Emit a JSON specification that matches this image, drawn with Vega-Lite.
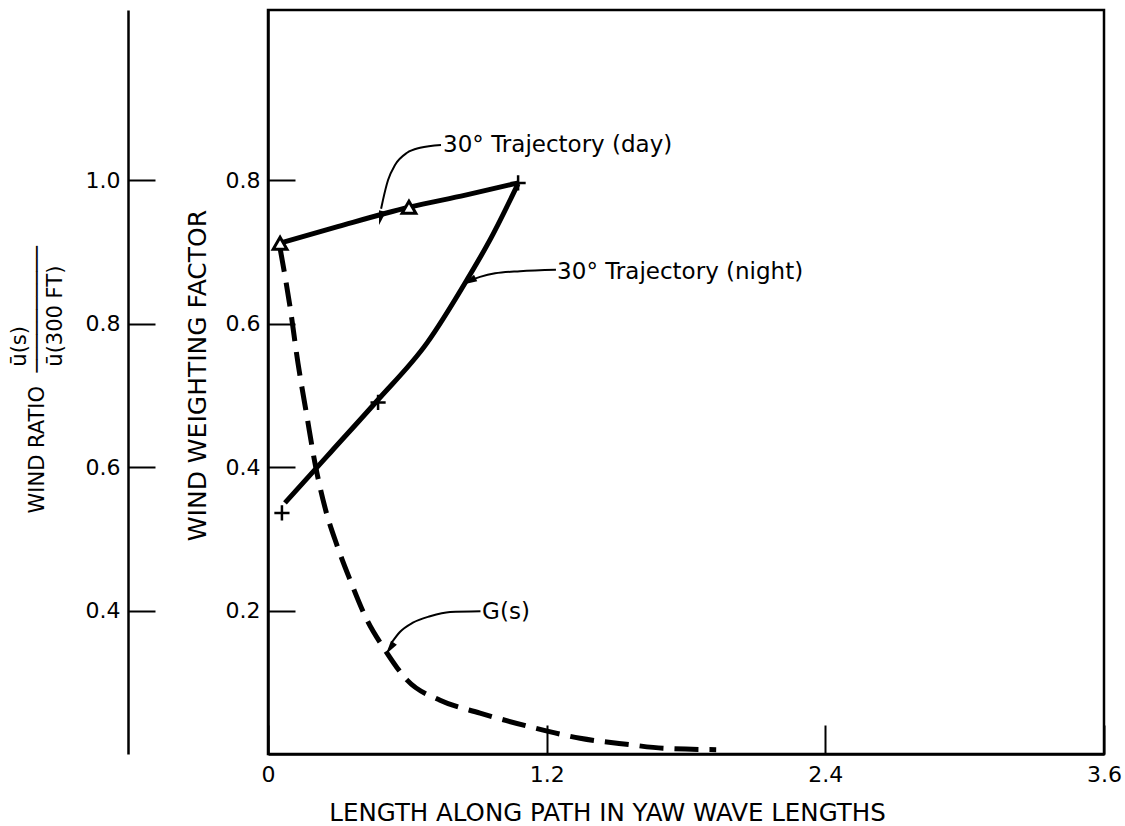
{
  "$schema": "https://vega.github.io/schema/vega-lite/v6.json",
  "width": 836,
  "height": 744,
  "autosize": {"type": "none"},
  "padding": {"left": 268, "top": 10, "right": 21, "bottom": 72},
  "background": "white",
  "config": {
    "view": {"stroke": "black", "strokeWidth": 2.5},
    "font": "DejaVu Sans",
    "axis": {
      "domainColor": "black", "domainWidth": 2.5, "tickColor": "black", "tickWidth": 2,
      "labelColor": "black", "titleColor": "black", "labelFont": "DejaVu Sans", "titleFont": "DejaVu Sans",
      "labelFontSize": 22, "titleFontSize": 23, "titleFontWeight": "normal", "grid": false, "labelFlush": false
    }
  },
  "datasets": {
    "ratioAxis": [{"ratio": 0.4}, {"ratio": 1.0}],
    "curves": [
      {"series": "day", "x": 0.052, "y": 0.712},
      {"series": "day", "x": 0.3, "y": 0.735},
      {"series": "day", "x": 0.607, "y": 0.762},
      {"series": "day", "x": 0.85, "y": 0.779},
      {"series": "day", "x": 1.077, "y": 0.796},
      {"series": "night", "x": 0.073, "y": 0.350},
      {"series": "night", "x": 0.271, "y": 0.421},
      {"series": "night", "x": 0.469, "y": 0.492},
      {"series": "night", "x": 0.685, "y": 0.573},
      {"series": "night", "x": 0.857, "y": 0.661},
      {"series": "night", "x": 0.960, "y": 0.719},
      {"series": "night", "x": 1.077, "y": 0.795}
    ],
    "gs": [
      {"x": 0.052, "y": 0.705},
      {"x": 0.095, "y": 0.623},
      {"x": 0.129, "y": 0.545},
      {"x": 0.168, "y": 0.470},
      {"x": 0.202, "y": 0.406},
      {"x": 0.245, "y": 0.344},
      {"x": 0.297, "y": 0.291},
      {"x": 0.353, "y": 0.243},
      {"x": 0.426, "y": 0.187},
      {"x": 0.504, "y": 0.145},
      {"x": 0.599, "y": 0.103},
      {"x": 0.741, "y": 0.075},
      {"x": 0.913, "y": 0.057},
      {"x": 1.128, "y": 0.038},
      {"x": 1.344, "y": 0.022},
      {"x": 1.559, "y": 0.013},
      {"x": 1.701, "y": 0.008},
      {"x": 1.930, "y": 0.006}
    ],
    "markers": [
      {"kind": "triangle", "x": 0.052, "y": 0.712},
      {"kind": "triangle", "x": 0.607, "y": 0.762},
      {"kind": "plus", "x": 0.060, "y": 0.336},
      {"kind": "plus", "x": 0.474, "y": 0.490},
      {"kind": "plus", "x": 1.077, "y": 0.796}
    ],
    "arrows": [
      {"arrow": "day", "x": 0.745, "y": 0.849},
      {"arrow": "day", "x": 0.655, "y": 0.845},
      {"arrow": "day", "x": 0.599, "y": 0.838},
      {"arrow": "day", "x": 0.547, "y": 0.821},
      {"arrow": "day", "x": 0.517, "y": 0.800},
      {"arrow": "day", "x": 0.495, "y": 0.772},
      {"arrow": "day", "x": 0.487, "y": 0.760},
      {"arrow": "night", "x": 1.240, "y": 0.675},
      {"arrow": "night", "x": 1.085, "y": 0.673},
      {"arrow": "night", "x": 0.978, "y": 0.670},
      {"arrow": "night", "x": 0.913, "y": 0.665},
      {"arrow": "night", "x": 0.876, "y": 0.661},
      {"arrow": "G", "x": 0.915, "y": 0.199},
      {"arrow": "G", "x": 0.784, "y": 0.198},
      {"arrow": "G", "x": 0.698, "y": 0.192},
      {"arrow": "G", "x": 0.624, "y": 0.183},
      {"arrow": "G", "x": 0.568, "y": 0.170},
      {"arrow": "G", "x": 0.532, "y": 0.155}
    ],
    "heads": [
      {"arrow": "day", "x": 0.4855, "y": 0.747},
      {"arrow": "night", "x": 0.867, "y": 0.659},
      {"arrow": "G", "x": 0.525, "y": 0.147}
    ],
    "labels": [
      {"x": 0.754, "y": 0.849, "text": "30° Trajectory (day)"},
      {"x": 1.245, "y": 0.672, "text": "30° Trajectory (night)"},
      {"x": 0.922, "y": 0.198, "text": "G(s)"}
    ]
  },
  "layer": [
    {
      "data": {"name": "ratioAxis"},
      "mark": {"type": "point", "opacity": 0},
      "encoding": {
        "y": {
          "field": "ratio", "type": "quantitative",
          "scale": {"domain": [0.2, 1.237], "nice": false, "zero": false},
          "axis": {
            "orient": "left", "offset": 140, "values": [0.4, 0.6, 0.8, 1.0], "format": ".1f",
            "tickSize": -27, "labelPadding": 35,
            "title": [
              "\u200b\u00a0\u00a0\u00a0\u00a0\u00a0\u00a0\u00a0\u00a0\u00a0\u00a0\u00a0\u00a0\u00a0\u00a0\u00a0\u00a0\u00a0\u00a0\u00a0\u00a0\u00a0\u00a0ū(s)",
              "WIND RATIO\u00a0\u00a0──────────",
              "\u200b\u00a0\u00a0\u00a0\u00a0\u00a0\u00a0\u00a0\u00a0\u00a0\u00a0\u00a0\u00a0\u00a0\u00a0\u00a0\u00a0\u00a0\u00a0\u00a0\u00a0\u00a0\u00a0ū(300 FT)"
            ],
            "titleX": -109, "titleY": 503, "titleAlign": "left", "titleBaseline": "middle",
            "titleAngle": -90, "titleLineHeight": 18, "titleFontSize": 21
          }
        }
      }
    },
    {
      "layer": [
        {
          "data": {"name": "curves"},
          "mark": {"type": "line", "color": "black", "strokeWidth": 5, "interpolate": "monotone"},
          "encoding": {
            "x": {
              "field": "x", "type": "quantitative",
              "scale": {"domain": [0, 3.6], "nice": false, "zero": false},
              "axis": {
                "values": [0, 1.2, 2.4, 3.6],
                "labelExpr": "datum.value == 0 ? '0' : format(datum.value, '.1f')",
                "tickSize": -29, "labelPadding": 39,
                "title": "LENGTH ALONG PATH IN YAW WAVE LENGTHS",
                "titleX": 339, "titleY": 59, "titleBaseline": "middle", "titleAlign": "center", "titleFontSize": 24.5
              }
            },
            "y": {
              "field": "y", "type": "quantitative",
              "scale": {"domain": [0, 1.037], "nice": false, "zero": false},
              "axis": {
                "orient": "left",
                "values": [0.2, 0.4, 0.6, 0.8], "format": ".1f",
                "tickSize": -27, "labelPadding": 35,
                "title": "WIND WEIGHTING FACTOR",
                "titleX": -71, "titleY": 365, "titleBaseline": "middle", "titleAlign": "center",
                "titleAngle": -90, "titleFontSize": 25
              }
            },
            "detail": {"field": "series"}
          }
        },
        {
          "data": {"name": "gs"},
          "mark": {"type": "line", "color": "black", "strokeWidth": 5, "strokeDash": [24, 11], "interpolate": "monotone"},
          "encoding": {
            "x": {"field": "x", "type": "quantitative"},
            "y": {"field": "y", "type": "quantitative"}
          }
        },
        {
          "data": {"name": "arrows"},
          "mark": {"type": "line", "color": "black", "strokeWidth": 2, "interpolate": "monotone"},
          "encoding": {
            "x": {"field": "x", "type": "quantitative"},
            "y": {"field": "y", "type": "quantitative"},
            "detail": {"field": "arrow"}
          }
        },
        {
          "data": {"name": "heads"},
          "transform": [{"filter": "datum.arrow == 'day'"}],
          "mark": {"type": "point", "shape": "M0,-1L0.5,1L-0.5,1Z", "filled": true, "color": "black", "opacity": 1, "size": 200, "angle": 194},
          "encoding": {
            "x": {"field": "x", "type": "quantitative"},
            "y": {"field": "y", "type": "quantitative"}
          }
        },
        {
          "data": {"name": "heads"},
          "transform": [{"filter": "datum.arrow == 'night'"}],
          "mark": {"type": "point", "shape": "M0,-1L0.5,1L-0.5,1Z", "filled": true, "color": "black", "opacity": 1, "size": 200, "angle": 243},
          "encoding": {
            "x": {"field": "x", "type": "quantitative"},
            "y": {"field": "y", "type": "quantitative"}
          }
        },
        {
          "data": {"name": "heads"},
          "transform": [{"filter": "datum.arrow == 'G'"}],
          "mark": {"type": "point", "shape": "M0,-1L0.5,1L-0.5,1Z", "filled": true, "color": "black", "opacity": 1, "size": 200, "angle": 215},
          "encoding": {
            "x": {"field": "x", "type": "quantitative"},
            "y": {"field": "y", "type": "quantitative"}
          }
        },
        {
          "data": {"name": "markers"},
          "transform": [{"filter": "datum.kind == 'triangle'"}],
          "mark": {"type": "point", "shape": "triangle-up", "filled": true, "fill": "white", "stroke": "black", "strokeWidth": 3, "opacity": 1, "size": 190},
          "encoding": {
            "x": {"field": "x", "type": "quantitative"},
            "y": {"field": "y", "type": "quantitative"}
          }
        },
        {
          "data": {"name": "markers"},
          "transform": [{"filter": "datum.kind == 'plus'"}],
          "mark": {"type": "point", "shape": "M-1,0L1,0M0,-1L0,1", "filled": false, "stroke": "black", "strokeWidth": 2.5, "opacity": 1, "size": 230},
          "encoding": {
            "x": {"field": "x", "type": "quantitative"},
            "y": {"field": "y", "type": "quantitative"}
          }
        },
        {
          "data": {"name": "labels"},
          "mark": {"type": "text", "align": "left", "baseline": "middle", "font": "DejaVu Sans", "fontSize": 23, "color": "black"},
          "encoding": {
            "x": {"field": "x", "type": "quantitative"},
            "y": {"field": "y", "type": "quantitative"},
            "text": {"field": "text"}
          }
        }
      ]
    }
  ],
  "resolve": {"scale": {"y": "independent"}, "axis": {"y": "independent"}}
}
